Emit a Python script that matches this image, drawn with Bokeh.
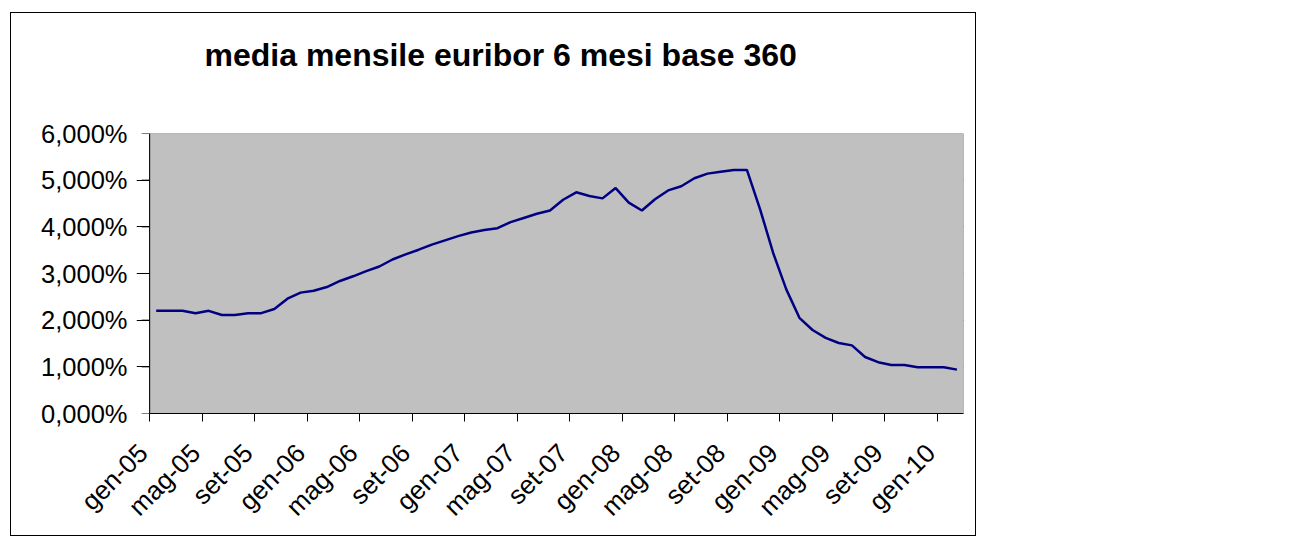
import math
from bokeh.plotting import figure
from bokeh.models import Range1d, FixedTicker, LinearAxis, Title
from bokeh.embed import file_html
from bokeh.resources import INLINE

# Monthly average Euribor 6M (base 360), Jan 2005 .. Feb 2010, in %
months = [
    "gen-05", "feb-05", "mar-05", "apr-05", "mag-05", "giu-05", "lug-05", "ago-05", "set-05", "ott-05", "nov-05", "dic-05",
    "gen-06", "feb-06", "mar-06", "apr-06", "mag-06", "giu-06", "lug-06", "ago-06", "set-06", "ott-06", "nov-06", "dic-06",
    "gen-07", "feb-07", "mar-07", "apr-07", "mag-07", "giu-07", "lug-07", "ago-07", "set-07", "ott-07", "nov-07", "dic-07",
    "gen-08", "feb-08", "mar-08", "apr-08", "mag-08", "giu-08", "lug-08", "ago-08", "set-08", "ott-08", "nov-08", "dic-08",
    "gen-09", "feb-09", "mar-09", "apr-09", "mag-09", "giu-09", "lug-09", "ago-09", "set-09", "ott-09", "nov-09", "dic-09",
    "gen-10", "feb-10",
]
values = [
    2.20, 2.20, 2.20, 2.15, 2.20, 2.11, 2.11, 2.15, 2.15, 2.24, 2.46, 2.59,
    2.63, 2.71, 2.84, 2.94, 3.05, 3.15, 3.30, 3.41, 3.51, 3.62, 3.71, 3.80,
    3.88, 3.93, 3.97, 4.10, 4.19, 4.28, 4.35, 4.58, 4.74, 4.66, 4.61, 4.83,
    4.52, 4.35, 4.59, 4.78, 4.87, 5.04, 5.14, 5.18, 5.22, 5.22, 4.38, 3.44,
    2.66, 2.05, 1.79, 1.62, 1.51, 1.46, 1.21, 1.10, 1.04, 1.04, 0.99, 0.99,
    0.99, 0.94,
]
x_tick_labels = ["gen-05", "mag-05", "set-05", "gen-06", "mag-06", "set-06", "gen-07", "mag-07",
                 "set-07", "gen-08", "mag-08", "set-08", "gen-09", "mag-09", "set-09", "gen-10"]
y_ticks = [0, 1, 2, 3, 4, 5, 6]
y_tick_labels = ["0,000%", "1,000%", "2,000%", "3,000%", "4,000%", "5,000%", "6,000%"]
grid_values = [1, 2, 3, 4, 5]
title_text = "media mensile euribor 6 mesi base 360"

n = len(values)
y_min, y_max = 0, 6
xs = [i + 0.5 for i in range(n)]
boundary_pos = [months.index(lbl) for lbl in x_tick_labels]
label_pos = [b - 0.5 for b in boundary_pos]

FONT = "Liberation Sans"
TICK_LEN = 0.61  # y tick length (~8 px) in category units

# frame extends one category to the left of the plot area so that rotated
# labels can sit left of their tick marks, as in the original
p = figure(width=966, height=524, output_backend="svg", toolbar_location=None,
           x_range=Range1d(-1, n), y_range=Range1d(y_min, y_max),
           min_border_left=125, min_border_right=14, min_border_top=120, min_border_bottom=124)
p.margin = (12, 0, 0, 10)
p.styles = {"border": "1px solid black"}

xa = p.below[0]
ya = p.left[0]

p.background_fill_color = "white"
p.border_fill_color = "white"
p.outline_line_color = None

# plot area
p.quad(left=0, right=n, bottom=y_min, top=y_max, fill_color="#C0C0C0",
       line_color="#808080", line_width=1)

# grid
p.xgrid.visible = False
p.ygrid.ticker = FixedTicker(ticks=grid_values)
p.ygrid.bounds = (0, n)
p.ygrid.grid_line_color = "black"
p.ygrid.grid_line_width = 1

# y axis line and tick marks
p.segment(x0=[0], y0=[y_min], x1=[0], y1=[y_max], line_color="black", line_width=1)
p.segment(x0=[-TICK_LEN] * len(y_ticks), y0=y_ticks, x1=[0] * len(y_ticks), y1=y_ticks,
          line_color="black", line_width=1)

# data
p.line(xs, values, line_color="#000080", line_width=2.5)

# empty space above the plot area, then the title
p.title.text = ""
spacer_axis = LinearAxis(ticker=FixedTicker(ticks=[], minor_ticks=[0]))
spacer_axis.axis_line_color = None
spacer_axis.major_tick_line_color = None
spacer_axis.minor_tick_line_color = None
spacer_axis.major_tick_out = 0
spacer_axis.major_tick_in = 0
spacer_axis.minor_tick_in = 0
spacer_axis.minor_tick_out = 43
p.add_layout(spacer_axis, "above")

title = Title(text=title_text, text_font=FONT, text_font_size="32px", text_font_style="bold",
              text_color="black", align="left", offset=68, standoff=35)
p.add_layout(title, "above")

# x axis: line + tick marks at category boundaries
xa.bounds = (0, n)
xa.ticker = FixedTicker(ticks=[], minor_ticks=boundary_pos)
xa.major_tick_out = 0
xa.major_tick_in = 0
xa.minor_tick_out = 8
xa.minor_tick_in = 0
xa.minor_tick_line_color = "black"
xa.axis_line_color = "black"

# x axis labels
xl = LinearAxis(ticker=FixedTicker(ticks=label_pos, minor_ticks=[]))
xl.major_label_overrides = {pos: lbl for pos, lbl in zip(label_pos, x_tick_labels)}
xl.axis_line_color = None
xl.major_tick_line_color = None
xl.minor_tick_line_color = None
xl.major_tick_out = 0
xl.major_tick_in = 0
xl.major_label_orientation = math.pi / 4
xl.major_label_text_font = FONT
xl.major_label_text_font_size = "26px"
xl.major_label_text_color = "black"
xl.major_label_standoff = 27
p.add_layout(xl, "below")

# y axis labels
ya.ticker = FixedTicker(ticks=y_ticks, minor_ticks=[])
ya.major_label_overrides = {t: lbl for t, lbl in zip(y_ticks, y_tick_labels)}
ya.major_tick_out = 0
ya.major_tick_in = 0
ya.major_tick_line_color = None
ya.axis_line_color = None
ya.major_label_text_font = FONT
ya.major_label_text_font_size = "25.5px"
ya.major_label_text_color = "black"
ya.major_label_standoff = 9

open("out.html", "w").write(file_html(p, INLINE))
